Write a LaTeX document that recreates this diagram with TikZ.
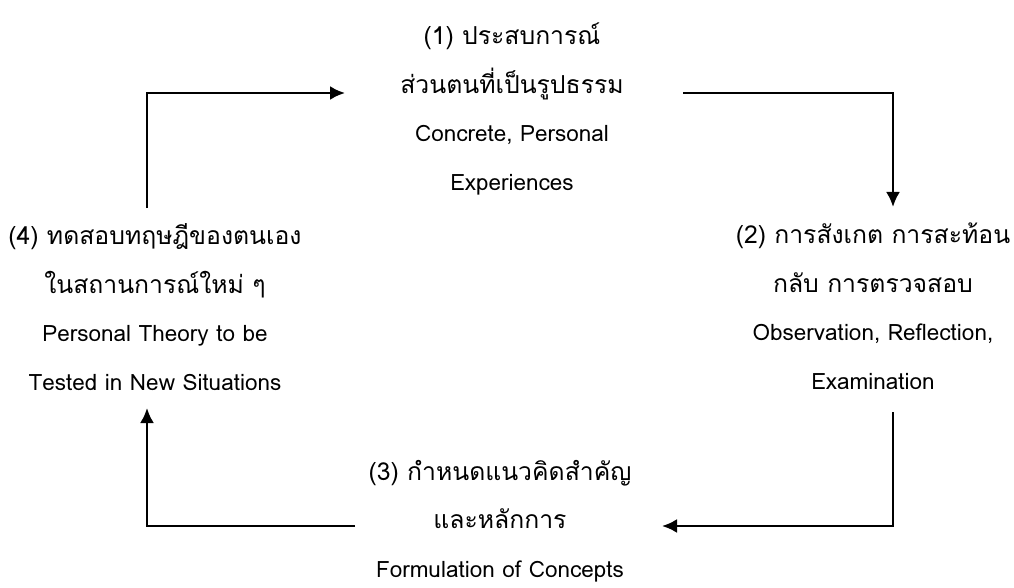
\documentclass[tikz,border=0pt]{standalone}
\usepackage{fontspec}
\setmainfont[Script=Thai]{Loma}
\newfontfamily\thai[Script=Thai,Scale=1.1]{Loma}
\usetikzlibrary{arrows.meta}

\tikzset{
	stage/.style={align=center,inner sep=0pt,font=\fontsize{22.5}{48.5}\selectfont},
	flow/.style={->,line width=2.5pt}
}

\begin{document}
\begin{tikzpicture}[>={Latex[length=15pt,width=14pt]},x=1pt,y=-1pt]
	\useasboundingbox (0,0) rectangle (1014,588);

	% the four stages of the cycle
	\begin{scope}
		\node[stage] (exp) at (512,109) {{\thai (1) ประสบการณ์}\\{\thai ส่วนตนที่เป็นรูปธรรม}\\Concrete, Personal\\Experiences};
		\node[stage] (obs) at (873,306) {{\thai (2) การสังเกต การสะท้อน}\\{\thai กลับ การตรวจสอบ}\\Observation, Reflection,\\Examination};
		\node[stage] (form) at (500,521) {{\thai (3) กำหนดแนวคิดสำคัญ}\\{\thai และหลักการ}\\Formulation of Concepts};
		\node[stage] (test) at (155,307) {{\thai (4) ทดสอบทฤษฎีของตนเอง}\\{\thai ในสถานการณ์ใหม่ ๆ}\\Personal Theory to be\\Tested in New Situations};
	\end{scope}

	% ends of the elbow arrows
	\coordinate (test-out) at (147,208);
	\coordinate (exp-in) at (345,93);
	\coordinate (exp-out) at (683,93);
	\coordinate (obs-in) at (893,207);
	\coordinate (obs-out) at (893,412);
	\coordinate (form-in) at (662,526);
	\coordinate (form-out) at (355,526);
	\coordinate (test-in) at (147,408);

	\begin{scope}
		\draw[flow] (test-out) |- (exp-in);
		\draw[flow] (exp-out) -| (obs-in);
		\draw[flow] (obs-out) |- (form-in);
		\draw[flow] (form-out) -| (test-in);
	\end{scope}
\end{tikzpicture}
\end{document}
